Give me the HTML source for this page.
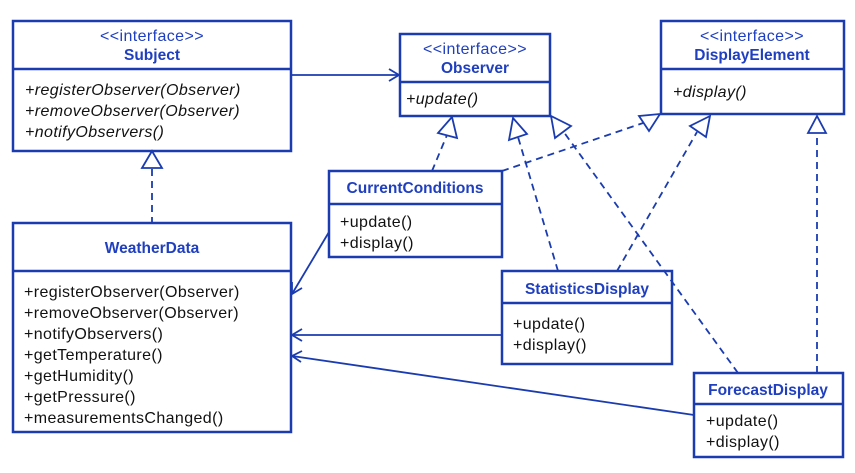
<!DOCTYPE html>
<html><head><meta charset="utf-8"><style>
body{margin:0;background:#fff;}
svg text{font-family:"Liberation Sans","NanumGothic",sans-serif;font-size:16px;letter-spacing:0.4px;}
.t{fill:#1f3fbf;text-anchor:middle;}
.tb{fill:#1f3fbf;text-anchor:middle;font-weight:bold;font-size:15.5px;letter-spacing:0;}
.m{fill:#111;}
.i{fill:#111;font-style:italic;}
</style></head><body>
<svg width="855" height="468" viewBox="0 0 855 468" xmlns="http://www.w3.org/2000/svg">
<g fill="#fff" stroke="#1a3cb0" stroke-width="2.5">
<rect x="13" y="21" width="278" height="130"/><line x1="13" y1="69" x2="291" y2="69"/>
<rect x="400" y="34" width="150" height="82"/><line x1="400" y1="82" x2="550" y2="82"/>
<rect x="661" y="21" width="183" height="93"/><line x1="661" y1="69" x2="844" y2="69"/>
<rect x="329" y="171" width="173" height="86"/><line x1="329" y1="204" x2="502" y2="204"/>
<rect x="13" y="223" width="278" height="209"/><line x1="13" y1="271" x2="291" y2="271"/>
<rect x="502" y="271" width="170" height="93"/><line x1="502" y1="303" x2="672" y2="303"/>
<rect x="694" y="373" width="149" height="84"/><line x1="694" y1="404" x2="843" y2="404"/>
</g>
<g fill="none" stroke="#1a3cb0" stroke-width="1.8">
<line x1="291" y1="75" x2="399" y2="75"/><polyline points="389,69 399,75 389,81"/>
<line x1="329" y1="232" x2="292" y2="294"/><polyline points="292,282 292,294 302,288"/>
<line x1="502" y1="335" x2="292" y2="335"/><polyline points="302,329 292,335 302,341"/>
<line x1="694" y1="415" x2="292" y2="356"/><polyline points="302,351 292,356 301,362"/>
</g>
<g fill="none" stroke="#1a3cb0" stroke-width="1.8" stroke-dasharray="7,5">
<line x1="152" y1="169" x2="152" y2="223"/>
<line x1="432" y1="171" x2="447" y2="135"/>
<line x1="502" y1="171" x2="649" y2="121"/>
<line x1="558" y1="271" x2="518" y2="137"/>
<line x1="617" y1="271" x2="697" y2="132"/>
<line x1="738" y1="373" x2="563" y2="131"/>
<line x1="817" y1="373" x2="817" y2="134"/>
</g>
<g fill="#fff" stroke="#1a3cb0" stroke-width="1.8">
<polygon points="152,151 142,168 162,168"/>
<polygon points="452,117 438,133 457,138"/>
<polygon points="660,114 639,116 649,131"/>
<polygon points="513,118 509,140 527,134"/>
<polygon points="710,116 690,126 706,137"/>
<polygon points="551,116 555,138 571,126"/>
<polygon points="817,116 808,133 826,133"/>
</g>
<text class="t" x="152" y="41">&lt;&lt;interface&gt;&gt;</text>
<text class="tb" x="152" y="60">Subject</text>
<text class="i" x="25" y="95">+registerObserver(Observer)</text>
<text class="i" x="25" y="116">+removeObserver(Observer)</text>
<text class="i" x="25" y="137">+notifyObservers()</text>
<text class="t" x="475" y="54">&lt;&lt;interface&gt;&gt;</text>
<text class="tb" x="475" y="73">Observer</text>
<text class="i" x="406" y="104">+update()</text>
<text class="t" x="752" y="41">&lt;&lt;interface&gt;&gt;</text>
<text class="tb" x="752" y="60">DisplayElement</text>
<text class="i" x="673" y="97">+display()</text>
<text class="tb" x="415" y="193">CurrentConditions</text>
<text class="m" x="340" y="227">+update()</text>
<text class="m" x="340" y="248">+display()</text>
<text class="tb" x="152" y="253">WeatherData</text>
<text class="m" x="24" y="297">+registerObserver(Observer)</text>
<text class="m" x="24" y="318">+removeObserver(Observer)</text>
<text class="m" x="24" y="339">+notifyObservers()</text>
<text class="m" x="24" y="360">+getTemperature()</text>
<text class="m" x="24" y="381">+getHumidity()</text>
<text class="m" x="24" y="402">+getPressure()</text>
<text class="m" x="24" y="423">+measurementsChanged()</text>
<text class="tb" x="587" y="294">StatisticsDisplay</text>
<text class="m" x="513" y="329">+update()</text>
<text class="m" x="513" y="350">+display()</text>
<text class="tb" x="768" y="395">ForecastDisplay</text>
<text class="m" x="706" y="426">+update()</text>
<text class="m" x="706" y="447">+display()</text>
</svg>
</body></html>
